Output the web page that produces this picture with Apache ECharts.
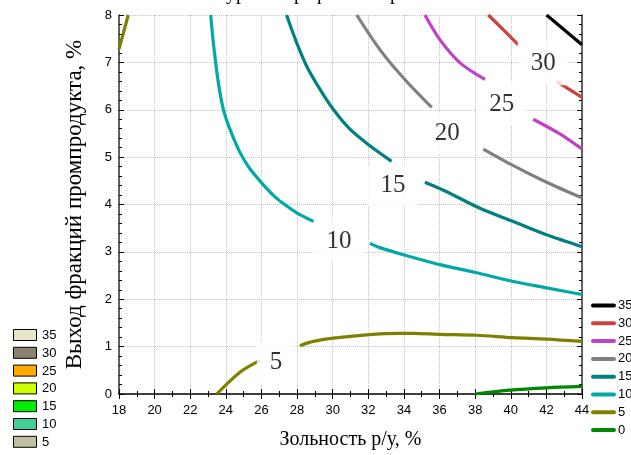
<!DOCTYPE html>
<html lang="ru">
<head>
  <meta charset="UTF-8">
  <title>Контурный график</title>
  <script src="https://cdn.jsdelivr.net/npm/echarts@6/dist/echarts.min.js"></script>
</head>
<body style="margin:0; background:#fff;">
  <!-- Chart container -->
  <div id="main" style="width: 631px; height: 455px;"></div>

  <script>
    // Contour lines: each level is a list of segments, each segment a list of [ash, yield]
    const level0 = [
      [[37.99, 0], [39.95, 0.08], [42.01, 0.13], [44, 0.16]]
    ];
    const level5 = [
      [[18, 7.28], [18.52, 8]],
      [[23.49, 0], [24.79, 0.46], [25.92, 0.71]],
      [[28.16, 1.02], [28.91, 1.11], [30.03, 1.18], [31.9, 1.25], [33.78, 1.28], [34.52, 1.28],
       [36.02, 1.26], [38.08, 1.24], [40.14, 1.19], [42.01, 1.16], [44, 1.11]]
    ];
    const level10 = [
      [[23.15, 8], [23.3, 7.41], [23.58, 6.57], [23.86, 6.01], [24.23, 5.59], [24.79, 5.1],
       [25.36, 4.75], [26.29, 4.34], [26.85, 4.13], [27.41, 3.97], [28.0, 3.82], [28.95, 3.64]],
      [[32.09, 3.18], [32.65, 3.09], [33.97, 2.94], [36.02, 2.73], [38.08, 2.56], [39.95, 2.39],
       [42.01, 2.24], [44, 2.1]]
    ];
    const level15 = [
      [[27.41, 8], [27.98, 7.41], [28.54, 6.92], [29.29, 6.43], [30.03, 6.01], [30.97, 5.59],
       [32.09, 5.24], [33.31, 4.91]],
      [[35.18, 4.47], [36.4, 4.27], [38.27, 3.92], [40.14, 3.64], [42.01, 3.36], [44, 3.11]]
    ];
    const level20 = [
      [[31.35, 8], [32.65, 7.27], [34.0, 6.66], [35.56, 6.05]],
      [[38.46, 5.17], [40.14, 4.82], [42.01, 4.47], [44, 4.14]]
    ];
    const level25 = [
      [[35.18, 8], [36.02, 7.48], [37.15, 6.99], [38.55, 6.64]],
      [[41.26, 5.8], [42.76, 5.49], [44, 5.17]]
    ];
    const level30 = [
      [[38.74, 8], [39.58, 7.69], [40.42, 7.37]],
      [[42.57, 6.6], [44, 6.26]]
    ];
    const level35 = [
      [[42.01, 8], [44, 7.37]]
    ];

    // Legend order (right side) and line colours
    const levelNames = ['35', '30', '25', '20', '15', '10', '5', '0'];
    const levelData = [level35, level30, level25, level20, level15, level10, level5, level0];
    const levelColors = ['#000000', '#c8443c', '#c040c8', '#808080', '#008080', '#00a8a8', '#808000', '#008800'];

    // Inline contour labels: [ash, yield, text]
    const contourLabels = [
      [26.82, 0.67, '5'],
      [30.35, 3.23, '10'],
      [33.38, 4.4, '15'],
      [36.44, 5.51, '20'],
      [39.49, 6.12, '25'],
      [41.82, 6.97, '30']
    ];

    // Filled-level legend on the left
    const boxNames = ['35', '30', '25', '20', '15', '10', '5'];
    const boxColors = ['#e8e6c8', '#8c8070', '#ffaa00', '#ccff00', '#00ee00', '#44cc99', '#c0c0a0'];

    let myChart = echarts.init(document.getElementById('main'));

    const series = [];
    levelData.forEach((segments, i) => {
      segments.forEach(seg => {
        series.push({
          name: levelNames[i],
          type: 'line',
          data: seg,
          showSymbol: false,
          smooth: 0.3,
          color: levelColors[i],
          lineStyle: { width: 3.2, color: levelColors[i] },
          silent: true,
          z: 3
        });
      });
    });

    series.push({
      type: 'scatter',
      data: contourLabels,
      symbolSize: 0,
      z: 5,
      label: {
        show: true,
        position: 'inside',
        formatter: p => p.data[2],
        fontFamily: 'Liberation Serif',
        fontSize: 25,
        color: '#000',
        backgroundColor: '#fff',
        padding: [11, 13, 7, 13]
      }
    });

    const graphic = [];
    boxNames.forEach((name, i) => {
      graphic.push({
        type: 'rect',
        shape: { x: 13.5, y: 329.5 + i * 17.8, width: 23, height: 11 },
        style: { fill: boxColors[i], stroke: '#000', lineWidth: 1 }
      });
      graphic.push({
        type: 'text',
        x: 42,
        y: 335.5 + i * 17.8,
        style: {
          text: name, fontFamily: 'Liberation Sans', fontSize: 13,
          fill: '#000', verticalAlign: 'middle'
        }
      });
    });
    // line legend on the right, running off the edge like the original
    levelNames.forEach((name, i) => {
      const y = 305.5 + i * 17.8;
      graphic.push({
        type: 'line',
        shape: { x1: 593, y1: y, x2: 614, y2: y },
        style: { stroke: levelColors[i], lineWidth: 4, lineCap: 'round' }
      });
      graphic.push({
        type: 'text',
        x: 618,
        y: y,
        style: {
          text: name, fontFamily: 'Liberation Sans', fontSize: 13,
          fill: '#000', verticalAlign: 'middle'
        }
      });
    });
    // title, mostly cut off at the top edge
    graphic.push({
      type: 'text',
      x: 322,
      y: 4,
      style: {
        text: 'Контурный график поверхности',
        fontFamily: 'Liberation Serif', fontSize: 20,
        fill: '#000', align: 'center', verticalAlign: 'bottom'
      }
    });

    const frameAxis = {
      axisLine: { show: true, lineStyle: { color: '#333', width: 1.5 } },
      axisTick: { show: true, inside: true, length: 5, lineStyle: { color: '#000' } },
      axisLabel: { show: false },
      splitLine: { show: false }
    };

    const options = {
      animation: false,
      backgroundColor: '#fff',
      grid: { left: 119, right: 49, top: 15, bottom: 58 },
      xAxis: [{
        type: 'value',
        min: 18,
        max: 44,
        interval: 2,
        name: 'Зольность р/у, %',
        nameLocation: 'middle',
        nameGap: 36,
        nameTextStyle: { fontFamily: 'Liberation Serif', fontSize: 20, color: '#000' },
        axisLine: { show: true, lineStyle: { color: '#333', width: 1.5 } },
        axisTick: { inside: true, length: 5, lineStyle: { color: '#000' } },
        minorTick: { show: true, splitNumber: 2, length: 3, lineStyle: { color: '#000' } },
        axisLabel: { fontFamily: 'Liberation Sans', fontSize: 13, color: '#000', margin: 10 },
        splitLine: { show: true, lineStyle: { color: '#c4c4c4', type: 'dotted', width: 1 } }
      }, Object.assign({}, frameAxis, {
        type: 'value', position: 'top', min: 18, max: 44, interval: 2,
        minorTick: { show: true, splitNumber: 2, length: 3, lineStyle: { color: '#000' } }
      })],
      yAxis: [{
        type: 'value',
        min: 0,
        max: 8,
        interval: 1,
        name: 'Выход фракций промпродукта, %',
        nameLocation: 'middle',
        nameGap: 33,
        nameTextStyle: { fontFamily: 'Liberation Serif', fontSize: 23, color: '#000' },
        axisLine: { show: true, lineStyle: { color: '#333', width: 1.5 } },
        axisTick: { inside: true, length: 5, lineStyle: { color: '#000' } },
        minorTick: { show: true, splitNumber: 5, length: 3, lineStyle: { color: '#000' } },
        axisLabel: { fontFamily: 'Liberation Sans', fontSize: 13, color: '#000', margin: 7 },
        splitLine: { show: true, lineStyle: { color: '#c4c4c4', type: 'dotted', width: 1 } }
      }, Object.assign({}, frameAxis, {
        type: 'value', position: 'right', min: 0, max: 8, interval: 1,
        minorTick: { show: true, splitNumber: 5, length: 3, lineStyle: { color: '#000' } }
      })],
      series: series,
      graphic: graphic
    };

    myChart.setOption(options);
  </script>
</body>
</html>
